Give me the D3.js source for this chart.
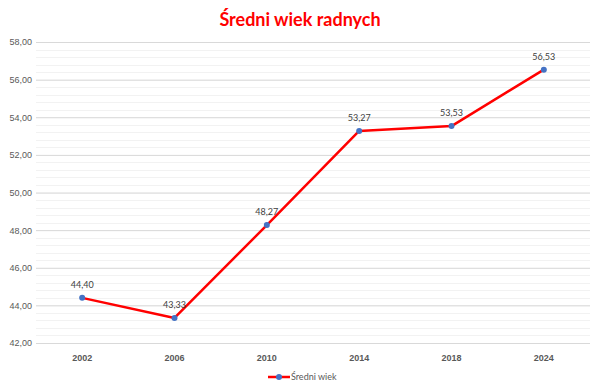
<!DOCTYPE html>
<html>
<head>
<meta charset="utf-8">
<script src="https://cdn.jsdelivr.net/npm/d3@7"></script>
<style>
  body { margin: 0; background: #fff; }
  svg { font-family: Lato, "Open Sans", sans-serif; }
</style>
</head>
<body>
<svg id="chart" width="600" height="389"></svg>
<script>
const years = ["2002", "2006", "2010", "2014", "2018", "2024"];
const avgAge = [44.40, 43.33, 48.27, 53.27, 53.53, 56.53];
const yTicks = [42, 44, 46, 48, 50, 52, 54, 56, 58];
const seriesName = "Średni wiek";

const svg = d3.select("#chart");
const margin = { top: 42, right: 10, bottom: 46, left: 36 };
const width = 600, height = 389;

const x = d3.scaleBand().domain(years).range([margin.left, width - margin.right]);
const y = d3.scaleLinear().domain([42, 58]).range([height - margin.bottom, margin.top]);
const fmt = v => v.toFixed(2).replace(".", ",");

// minor grid
const minor = d3.range(42, 58.001, 0.4);
svg.append("g")
  .selectAll("line")
  .data(minor)
  .enter()
  .append("line")
  .attr("x1", margin.left)
  .attr("x2", width - margin.right)
  .attr("y1", d => Math.round(y(d)) + 0.5)
  .attr("y2", d => Math.round(y(d)) + 0.5)
  .attr("stroke", "#f2f2f2")
  .attr("stroke-width", 1);

// major grid + y labels
const yAxis = svg.append("g")
  .attr("transform", `translate(${margin.left},0)`)
  .call(d3.axisLeft(y).tickValues(yTicks).tickFormat(fmt).tickSize(-(width - margin.left - margin.right)).tickPadding(6));
yAxis.select(".domain").remove();
yAxis.selectAll(".tick line").attr("stroke", "#d9d9d9");
yAxis.selectAll(".tick text")
  .attr("x", -4)
  .attr("fill", "#595959")
  .style("font-size", "9px");

// x labels
const xAxis = svg.append("g")
  .attr("transform", `translate(0,${height - margin.bottom})`)
  .call(d3.axisBottom(x).tickSize(0).tickPadding(12));
xAxis.select(".domain").remove();
xAxis.selectAll(".tick text")
  .attr("fill", "#595959")
  .style("font-size", "9px")
  .style("font-weight", "bold");

// line
const line = d3.line()
  .x((d, i) => x(years[i]) + x.bandwidth() / 2)
  .y(d => y(d));

svg.append("path")
  .datum(avgAge)
  .attr("d", line)
  .attr("fill", "none")
  .attr("stroke", "#ff0000")
  .attr("stroke-width", 2.5)
  .attr("stroke-linejoin", "round");

svg.append("g")
  .selectAll("circle")
  .data(avgAge)
  .enter()
  .append("circle")
  .attr("cx", (d, i) => x(years[i]) + x.bandwidth() / 2)
  .attr("cy", d => y(d))
  .attr("r", 3)
  .attr("fill", "#4472c4");

svg.append("g")
  .selectAll("text")
  .data(avgAge)
  .enter()
  .append("text")
  .attr("x", (d, i) => x(years[i]) + x.bandwidth() / 2)
  .attr("y", d => y(d) - 10)
  .attr("text-anchor", "middle")
  .attr("fill", "#404040")
  .style("font-size", "9px")
  .text(fmt);

// title
svg.append("text")
  .attr("x", 300)
  .attr("y", 26)
  .attr("text-anchor", "middle")
  .attr("fill", "#ff0000")
  .style("font-size", "18px")
  .style("font-weight", "bold")
  .text("Średni wiek radnych");

// legend
const lg = svg.append("g").attr("transform", "translate(268,377)");
lg.append("line").attr("x1", 0).attr("x2", 22).attr("y1", 0).attr("y2", 0)
  .attr("stroke", "#ff0000").attr("stroke-width", 2.5);
lg.append("circle").attr("cx", 11).attr("cy", 0).attr("r", 3).attr("fill", "#4472c4");
lg.append("text").attr("x", 23).attr("y", 3).attr("fill", "#595959")
  .style("font-size", "9px").text(seriesName);
</script>
</body>
</html>
